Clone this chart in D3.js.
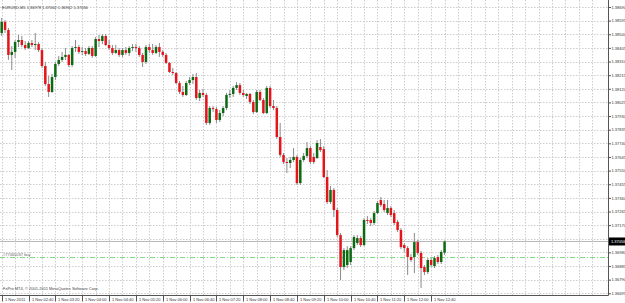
<!DOCTYPE html>
<html>
<head>
<meta charset="utf-8">
<script src="https://cdn.jsdelivr.net/npm/d3@7"></script>
<style>
  body { margin: 0; background: #fff; }
  svg { display: block; font-family: "Liberation Sans", Arial, sans-serif; }
</style>
</head>
<body>
<div id="chart"></div>
<script>
const symbol = "EURUSD,M5";
const footer = "FxPro MT4, \u00a9 2001-2011 MetaQuotes Software Corp.";

// M5 bars from 1 Nov 02:00
const opens = [1.38509,1.38586,1.38530,1.38356,1.38377,1.38446,1.38460,1.38425,1.38404,1.38439,
  1.38425,1.38432,1.38390,1.38279,1.38153,1.38098,1.38202,1.38293,1.38321,1.38342,
  1.38356,1.38286,1.38404,1.38411,1.38377,1.38383,1.38363,1.38404,1.38349,1.38467,
  1.38453,1.38488,1.38425,1.38404,1.38370,1.38390,1.38356,1.38390,1.38370,1.38404,
  1.38411,1.38404,1.38356,1.38307,1.38411,1.38390,1.38370,1.38411,1.38377,1.38356,
  1.38300,1.38237,1.38230,1.38160,1.38098,1.38077,1.38160,1.38181,1.38202,1.38056,
  1.38091,1.38077,1.37882,1.37986,1.37979,1.37903,1.37951,1.37986,1.38077,1.38084,
  1.38126,1.38146,1.38091,1.38070,1.38084,1.38028,1.37958,1.38098,1.38042,1.37951,
  1.38126,1.38000,1.37986,1.37784,1.37659,1.37610,1.37603,1.37624,1.37645,1.37463,
  1.37624,1.37652,1.37707,1.37645,1.37638,1.37714,1.37700,1.37505,1.37331,1.37415,
  1.37275,1.37101,1.36878,1.36892,1.36913,1.37010,1.37045,1.37080,1.37031,1.37206,
  1.37206,1.37185,1.37254,1.37345,1.37317,1.37254,1.37289,1.37254,1.37192,1.37136,
  1.37031,1.37010,1.36948,1.36948,1.37052,1.36976,1.36878,1.36843,1.36927,1.36885,
  1.36948,1.36913,1.36978];
const highs = [1.38614,1.38600,1.38544,1.38418,1.38460,1.38495,1.38488,1.38453,1.38453,1.38460,
  1.38509,1.38446,1.38404,1.38307,1.38209,1.38223,1.38307,1.38349,1.38377,1.38404,
  1.38363,1.38418,1.38460,1.38425,1.38411,1.38404,1.38418,1.38418,1.38481,1.38495,
  1.38502,1.38502,1.38460,1.38425,1.38425,1.38404,1.38404,1.38411,1.38418,1.38432,
  1.38432,1.38418,1.38370,1.38425,1.38432,1.38432,1.38425,1.38439,1.38390,1.38370,
  1.38307,1.38265,1.38237,1.38174,1.38140,1.38174,1.38202,1.38223,1.38230,1.38112,
  1.38119,1.38091,1.38000,1.38000,1.37993,1.37972,1.38000,1.38091,1.38112,1.38140,
  1.38167,1.38160,1.38112,1.38091,1.38091,1.38042,1.38112,1.38112,1.38056,1.38140,
  1.38140,1.38042,1.38000,1.37882,1.37673,1.37638,1.37645,1.37707,1.37659,1.37638,
  1.37673,1.37749,1.37721,1.37673,1.37763,1.37770,1.37721,1.37554,1.37443,1.37429,
  1.37289,1.37115,1.37010,1.37024,1.37024,1.37101,1.37101,1.37094,1.37219,1.37233,
  1.37219,1.37268,1.37338,1.37366,1.37345,1.37345,1.37303,1.37275,1.37206,1.37150,
  1.37045,1.37024,1.36969,1.37115,1.37066,1.36990,1.36892,1.36941,1.36941,1.36955,
  1.36962,1.36996,1.37062];
const lows = [1.38488,1.38509,1.38321,1.38251,1.38335,1.38411,1.38411,1.38390,1.38397,1.38411,
  1.38390,1.38377,1.38265,1.38140,1.38063,1.38091,1.38181,1.38279,1.38307,1.38321,
  1.38272,1.38272,1.38377,1.38363,1.38356,1.38349,1.38356,1.38335,1.38342,1.38411,
  1.38432,1.38418,1.38390,1.38356,1.38363,1.38342,1.38342,1.38356,1.38349,1.38383,
  1.38377,1.38342,1.38272,1.38293,1.38370,1.38356,1.38363,1.38342,1.38342,1.38293,
  1.38230,1.38216,1.38153,1.38084,1.38063,1.38070,1.38146,1.38153,1.38042,1.38035,
  1.38063,1.37868,1.37868,1.37958,1.37882,1.37889,1.37930,1.37972,1.38056,1.38063,
  1.38112,1.38077,1.38063,1.38049,1.38014,1.37944,1.37951,1.38035,1.37944,1.37944,
  1.37986,1.37972,1.37770,1.37645,1.37596,1.37533,1.37568,1.37610,1.37450,1.37450,
  1.37610,1.37638,1.37596,1.37596,1.37631,1.37680,1.37498,1.37317,1.37317,1.37226,
  1.37087,1.36787,1.36857,1.36871,1.36892,1.36996,1.37031,1.37017,1.37024,1.37178,
  1.37164,1.37171,1.37247,1.37296,1.37261,1.37240,1.37226,1.37171,1.37122,1.37003,
  1.36983,1.36822,1.36913,1.36836,1.36962,1.36732,1.36822,1.36829,1.36878,1.36871,
  1.36899,1.36899,1.36962];
const closes = [1.38586,1.38530,1.38356,1.38377,1.38446,1.38460,1.38425,1.38404,1.38439,1.38425,
  1.38432,1.38390,1.38279,1.38153,1.38098,1.38202,1.38293,1.38321,1.38342,1.38356,
  1.38286,1.38404,1.38411,1.38377,1.38383,1.38363,1.38404,1.38349,1.38467,1.38453,
  1.38488,1.38425,1.38404,1.38370,1.38390,1.38356,1.38390,1.38370,1.38404,1.38411,
  1.38404,1.38356,1.38307,1.38411,1.38390,1.38370,1.38411,1.38377,1.38356,1.38300,
  1.38237,1.38230,1.38160,1.38098,1.38077,1.38160,1.38181,1.38202,1.38056,1.38091,
  1.38077,1.37882,1.37986,1.37979,1.37903,1.37951,1.37986,1.38077,1.38084,1.38126,
  1.38146,1.38091,1.38077,1.38084,1.38028,1.37958,1.38098,1.38042,1.37951,1.38126,
  1.38000,1.37986,1.37784,1.37659,1.37610,1.37603,1.37624,1.37645,1.37463,1.37624,
  1.37652,1.37707,1.37610,1.37610,1.37742,1.37693,1.37505,1.37331,1.37415,1.37275,
  1.37101,1.36878,1.36996,1.36996,1.37010,1.37087,1.37080,1.37031,1.37206,1.37199,
  1.37185,1.37254,1.37324,1.37310,1.37275,1.37289,1.37240,1.37185,1.37136,1.37017,
  1.37010,1.36948,1.36927,1.37052,1.36976,1.36871,1.36843,1.36927,1.36892,1.36941,
  1.36913,1.36983,1.37056];

// one label every 8 bars (40 min)
const timeLabels = ["1 Nov 2011","1 Nov 02:40","1 Nov 03:20","1 Nov 04:00","1 Nov 04:40",
  "1 Nov 05:20","1 Nov 06:00","1 Nov 06:40","1 Nov 07:20","1 Nov 08:00","1 Nov 08:40",
  "1 Nov 09:20","1 Nov 10:00","1 Nov 10:40","1 Nov 11:20","1 Nov 12:00","1 Nov 12:40"];
const priceTicks = [1.38690,1.38595,1.38500,1.38405,1.38310,1.38215,1.38120,1.38025,
  1.37930,1.37835,1.37740,1.37645,1.37550,1.37455,1.37360,1.37265,1.37170,1.37075,
  1.36980,1.36885,1.36790,1.36695];

const orderLabel = "#77465037 buy";
const orderPrice = 1.36944;

const W = 625, H = 303;
const plotRight = 608.5, plotBottom = 295.5;
const barStep = 3.355, labelStep = 8, gridStep = 4;

function renderChart() {
    const svg = d3.select("#chart").append("svg")
        .attr("width", W)
        .attr("height", H);

    const x = d3.scaleLinear().domain([0, 1]).range([1.7, 1.7 + barStep]);
    const y = d3.scaleLinear()
        .domain([d3.min(priceTicks), d3.max(priceTicks)])
        .range([293.3, 7]);
    const fmt = d3.format(".5f");
    const last = closes.length - 1;
    const yc = y(closes[last]);

    // grid
    const grid = svg.append("g")
        .attr("stroke", "#cdcdcd")
        .attr("stroke-width", 1)
        .attr("stroke-dasharray", "1.5,1.5");
    grid.selectAll("line.h")
        .data(priceTicks)
        .join("line")
        .attr("class", "h")
        .attr("x1", 0).attr("x2", plotRight)
        .attr("y1", d => Math.round(y(d)) + 0.5)
        .attr("y2", d => Math.round(y(d)) + 0.5);
    const vIdx = d3.range(0, 177, gridStep);
    grid.selectAll("line.v")
        .data(vIdx)
        .join("line")
        .attr("class", "v")
        .attr("x1", d => Math.round(x(d)) + 0.5)
        .attr("x2", d => Math.round(x(d)) + 0.5)
        .attr("y1", 0).attr("y2", plotBottom);

    // bid line
    svg.append("line")
        .attr("x1", 0).attr("x2", plotRight)
        .attr("y1", yc).attr("y2", yc)
        .attr("stroke", "#b9b9b9")
        .attr("stroke-width", 1);

    // order line
    svg.append("line")
        .attr("x1", 0).attr("x2", plotRight)
        .attr("y1", y(orderPrice)).attr("y2", y(orderPrice))
        .attr("stroke", "#7cd87c")
        .attr("stroke-width", 1)
        .attr("stroke-dasharray", "5,2,1,2");
    svg.append("text")
        .attr("x", 3).attr("y", y(orderPrice) - 2)
        .attr("font-size", "4px")
        .attr("fill", "#666")
        .text(orderLabel);

    // candles
    const bars = d3.range(opens.length).map(i => ({
        i: i, o: opens[i], h: highs[i], l: lows[i], c: closes[i]
    }));
    svg.append("g")
        .attr("stroke", "#8a8a8a")
        .attr("stroke-width", 1)
        .selectAll("line")
        .data(bars)
        .join("line")
        .attr("x1", d => x(d.i)).attr("x2", d => x(d.i))
        .attr("y1", d => y(d.h)).attr("y2", d => y(d.l));
    svg.append("g")
        .selectAll("rect")
        .data(bars)
        .join("rect")
        .attr("x", d => x(d.i) - 1.25)
        .attr("width", 2.5)
        .attr("y", d => Math.min(y(d.o), y(d.c)))
        .attr("height", d => Math.max(Math.abs(y(d.o) - y(d.c)), 0.8))
        .attr("fill", d => d.c > d.o ? "#0c6a12" : (d.c < d.o ? "#e3151b" : "#777"));

    // price axis
    svg.append("line")
        .attr("x1", plotRight).attr("x2", plotRight)
        .attr("y1", 0).attr("y2", plotBottom)
        .attr("stroke", "#555");
    const axisR = svg.append("g")
        .attr("transform", `translate(${plotRight},0)`)
        .call(d3.axisRight(y).tickValues(priceTicks).tickSize(2.5).tickPadding(0.5)
            .tickFormat(fmt));
    axisR.select(".domain").remove();
    axisR.selectAll("line").attr("stroke", "#555");
    axisR.selectAll("text")
        .attr("font-size", "4px")
        .attr("font-family", "Liberation Sans, Arial, sans-serif")
        .attr("fill", "#333");
    // the label under the current price box is hidden, as in the terminal
    axisR.selectAll(".tick text")
        .filter(d => Math.abs(y(d) - yc) < 6)
        .remove();

    // current price box
    svg.append("rect")
        .attr("x", plotRight + 0.5).attr("y", yc - 4)
        .attr("width", W - plotRight).attr("height", 8)
        .attr("fill", "#000");
    svg.append("text")
        .attr("x", plotRight + 2.5).attr("y", yc + 1.5)
        .attr("font-size", "4px")
        .attr("fill", "#fff")
        .text(fmt(closes[last]));

    // time axis
    svg.append("line")
        .attr("x1", 0).attr("x2", plotRight)
        .attr("y1", plotBottom).attr("y2", plotBottom)
        .attr("stroke", "#555");
    const tAxis = svg.append("g")
        .selectAll("g")
        .data(timeLabels)
        .join("g")
        .attr("transform", (d, k) => `translate(${Math.round(x(k * labelStep)) + 0.5},${plotBottom})`);
    tAxis.append("line")
        .attr("y1", 0).attr("y2", 6)
        .attr("stroke", "#555");
    tAxis.append("text")
        .attr("x", 2.5).attr("y", 5.3)
        .attr("font-size", "4px")
        .attr("fill", "#333")
        .text(d => d);

    // header / footer
    svg.append("text")
        .attr("x", 2).attr("y", 8.5)
        .attr("font-size", "4px")
        .attr("fill", "#333")
        .text(`${symbol}  ${fmt(opens[last])} ${fmt(highs[last])} ${fmt(lows[last])} ${fmt(closes[last])}`);
    svg.append("text")
        .attr("x", 3).attr("y", 290)
        .attr("font-size", "4px")
        .attr("fill", "#444")
        .text(footer);
}

renderChart();
</script>
</body>
</html>
